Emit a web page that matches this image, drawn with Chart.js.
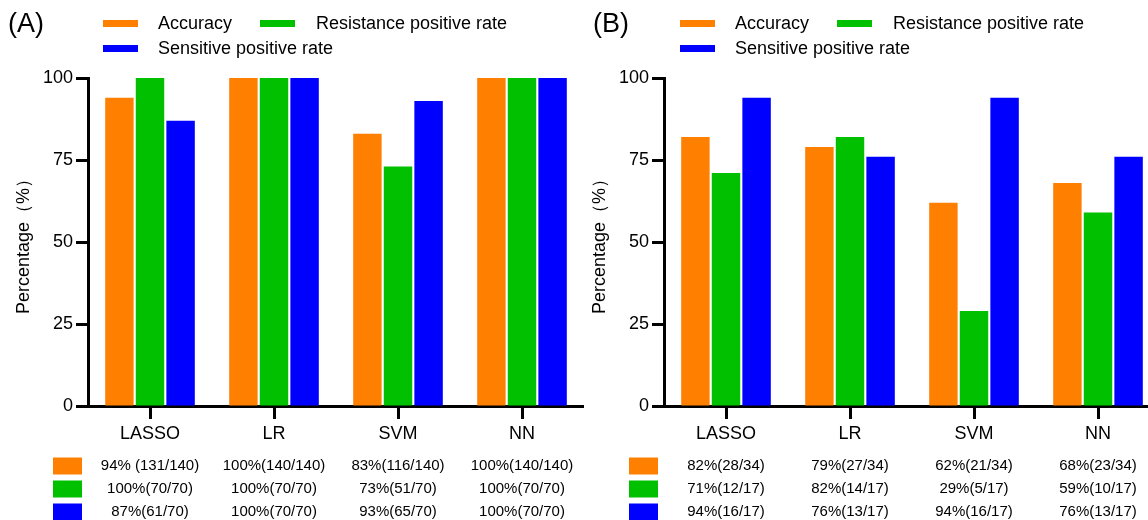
<!DOCTYPE html>
<html>
<head>
<meta charset="utf-8">
<script src="https://cdn.jsdelivr.net/npm/chart.js@4"></script>
<style>
    html, body { margin: 0; padding: 0; background: #fff; overflow: hidden; }
    body { width: 1148px; height: 520px; position: relative; font-family: "Liberation Sans", Arial, sans-serif; color: #000; }
    .panel { position: absolute; top: 0; width: 584px; height: 520px; }
    .tag { position: absolute; font-size: 27px; line-height: 27px; top: 10px; }
    .sw { position: absolute; width: 35px; height: 7px; }
    .lab { position: absolute; font-size: 18px; line-height: 18px; white-space: nowrap; }
</style>
</head>
<body>
<div class="panel" style="left:0"><canvas id="chart-a"></canvas></div>
<div class="panel" style="left:576px"><canvas id="chart-b"></canvas></div>

<div class="tag" style="left:8px">(A)</div>
<div class="tag" style="left:593px">(B)</div>
<div id="legend-a"></div>
<div id="legend-b"></div>

<script>
(function () {
    var categories = ['LASSO', 'LR', 'SVM', 'NN'];
    var seriesNames = ['Accuracy', 'Resistance positive rate', 'Sensitive positive rate'];
    var yTicks = [0, 25, 50, 75, 100];

    // panel A (training) values, %
    var accuracyA = [94, 100, 83, 100];
    var resistanceA = [100, 100, 73, 100];
    var sensitiveA = [87, 100, 93, 100];
    var tableA = [
        ['94% (131/140)', '100%(140/140)', '83%(116/140)', '100%(140/140)'],
        ['100%(70/70)', '100%(70/70)', '73%(51/70)', '100%(70/70)'],
        ['87%(61/70)', '100%(70/70)', '93%(65/70)', '100%(70/70)']
    ];

    // panel B (validation) values, %
    var accuracyB = [82, 79, 62, 68];
    var resistanceB = [71, 82, 29, 59];
    var sensitiveB = [94, 76, 94, 76];
    var tableB = [
        ['82%(28/34)', '79%(27/34)', '62%(21/34)', '68%(23/34)'],
        ['71%(12/17)', '82%(14/17)', '29%(5/17)', '59%(10/17)'],
        ['94%(16/17)', '76%(13/17)', '94%(16/17)', '76%(13/17)']
    ];

    var colors = ['rgb(255,128,0)', 'rgb(0,192,0)', 'rgb(0,0,255)'];
    var font = '"Liberation Sans", Arial, sans-serif';

    Chart.defaults.animation = false;
    Chart.defaults.color = '#000';
    Chart.defaults.font.family = font;

    // legend: two items on the first row, one on the second
    function legend(id, left) {
        var el = document.getElementById(id);
        var spots = [[left, 20, 157], [left + 157, 20, 56], [left, 45, 55]];
        seriesNames.forEach(function (name, i) {
            var s = spots[i];
            var sw = document.createElement('div');
            sw.className = 'sw';
            sw.style.left = (i === 1 ? left + 157 : left) + 'px';
            sw.style.top = s[1] + 'px';
            sw.style.background = colors[i];
            el.appendChild(sw);
            var t = document.createElement('div');
            t.className = 'lab';
            t.style.left = (i === 1 ? left + 213 : left + 55) + 'px';
            t.style.top = (s[1] - 6) + 'px';
            t.textContent = name;
            el.appendChild(t);
        });
    }
    legend('legend-a', 103);
    legend('legend-b', 680);

    // the count table under the x axis, one column per category tick
    var tablePlugin = {
        id: 'countTable',
        afterDraw: function (chart) {
            var rows = chart.options.plugins.countTable.rows;
            var ctx = chart.ctx;
            var x = chart.scales.x;
            ctx.save();
            ctx.font = '15px ' + font;
            ctx.textAlign = 'center';
            ctx.textBaseline = 'middle';
            rows.forEach(function (row, r) {
                var cy = 466 + r * 23;
                ctx.fillStyle = colors[r];
                ctx.fillRect(chart.chartArea.left - 35, cy - 8.5, 29, 17);
                ctx.fillStyle = '#000';
                row.forEach(function (txt, i) {
                    ctx.fillText(txt, x.getPixelForValue(i), cy);
                });
            });
            ctx.restore();
        }
    };

    function panel(id, a, r, s, rows) {
        new Chart(document.getElementById(id), {
            type: 'bar',
            data: {
                labels: categories,
                datasets: [a, r, s].map(function (values, i) {
                    return {
                        label: seriesNames[i],
                        data: values,
                        backgroundColor: colors[i],
                        borderWidth: 0,
                        categoryPercentage: 0.74,
                        barPercentage: 0.93
                    };
                })
            },
            options: {
                responsive: true,
                maintainAspectRatio: false,
                layout: { padding: { top: 78, right: 0, bottom: 0, left: 0 } },
                plugins: {
                    legend: { display: false },
                    tooltip: { enabled: false },
                    countTable: { rows: rows }
                },
                scales: {
                    x: {
                        afterFit: function (sc) { sc.height = 114; },
                        grid: { offset: false, drawOnChartArea: false, tickLength: 13, tickWidth: 3, tickColor: '#000' },
                        border: { display: true, width: 3, color: '#000' },
                        ticks: { font: { size: 18 }, padding: 4, maxRotation: 0 }
                    },
                    y: {
                        min: 0,
                        max: 100,
                        afterFit: function (sc) { sc.width = 88; },
                        afterBuildTicks: function (sc) {
                            sc.ticks = yTicks.map(function (v) { return { value: v }; });
                        },
                        grid: { drawOnChartArea: false, tickLength: 12, tickWidth: 3, tickColor: '#000' },
                        border: { display: true, width: 3, color: '#000' },
                        ticks: { font: { size: 18 }, padding: 3 },
                        title: {
                            display: true,
                            text: 'Percentage（%）',
                            font: { size: 18 },
                            padding: { top: 13, bottom: 0 }
                        }
                    }
                }
            },
            plugins: [tablePlugin]
        });
    }

    panel('chart-a', accuracyA, resistanceA, sensitiveA, tableA);
    panel('chart-b', accuracyB, resistanceB, sensitiveB, tableB);
})();
</script>
</body>
</html>
